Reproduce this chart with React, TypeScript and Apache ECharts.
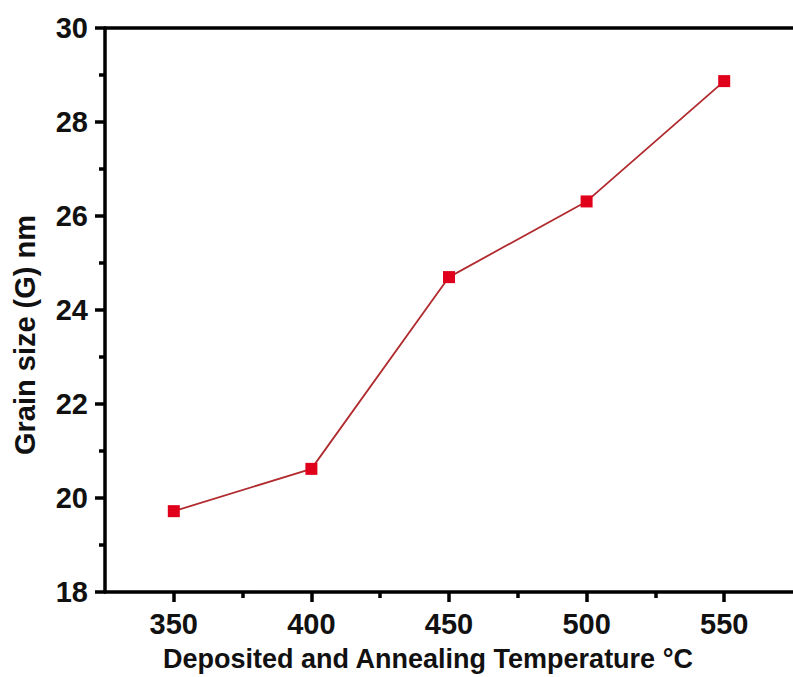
import React, { useEffect, useRef } from "react";
import * as echarts from "echarts";

const temperatures = [350, 400, 450, 500, 550];
const grainSize = [19.72, 20.62, 24.7, 26.31, 28.87];
const xMajorTicks = [350, 400, 450, 500, 550];
const xMinorTicks = [375, 425, 475, 525];
const xTitle = "Deposited and Annealing Temperature °C";
const yTitle = "Grain size (G) nm";

export default function App() {
  const ref = useRef<HTMLDivElement>(null);
  useEffect(() => {
    document.body.style.margin = "0";
    const chart = echarts.init(ref.current!, null, { renderer: "svg" });
    const font = "'Liberation Sans', Arial, sans-serif";
    const axisColor = "#000";
    const w = 3.5;
    chart.setOption({
      animation: false,
      backgroundColor: "#fff",
      grid: { left: 105, top: 28, width: 698.5, height: 566, containLabel: false },
      xAxis: [
        {
          type: "value",
          min: 325,
          max: 575,
          position: "bottom",
          axisLine: { show: true, onZero: false, lineStyle: { color: axisColor, width: w } },
          axisTick: { show: true, inside: false, length: 10, customValues: xMajorTicks, lineStyle: { color: axisColor, width: w } },
          axisLabel: { customValues: xMajorTicks, color: "#111", fontFamily: font, fontWeight: "bold", fontSize: 29, margin: 17 },
          splitLine: { show: false },
          name: xTitle,
          nameLocation: "middle",
          nameGap: 53,
          nameTextStyle: { color: "#111", fontFamily: font, fontWeight: "bold", fontSize: 27, padding: [0, 42, 0, 0] },
        },
        {
          type: "value",
          min: 325,
          max: 575,
          position: "bottom",
          axisLine: { show: false },
          axisTick: { show: true, inside: false, length: 6, customValues: xMinorTicks, lineStyle: { color: axisColor, width: w } },
          axisLabel: { show: false },
          splitLine: { show: false },
        },
        {
          type: "value",
          min: 325,
          max: 575,
          position: "top",
          axisLine: { show: true, onZero: false, lineStyle: { color: axisColor, width: w } },
          axisTick: { show: false },
          axisLabel: { show: false },
          splitLine: { show: false },
        },
      ],
      yAxis: {
        type: "value",
        min: 18,
        max: 30,
        interval: 2,
        axisLine: { show: true, onZero: false, lineStyle: { color: axisColor, width: w } },
        axisTick: { show: true, inside: false, length: 10, lineStyle: { color: axisColor, width: w } },
        minorTick: { show: true, splitNumber: 2, length: 6, lineStyle: { color: axisColor, width: w } },
        axisLabel: { color: "#111", fontFamily: font, fontWeight: "bold", fontSize: 29, margin: 17 },
        splitLine: { show: false },
        name: yTitle,
        nameLocation: "middle",
        nameRotate: 90,
        nameGap: 66,
        nameTextStyle: { color: "#111", fontFamily: font, fontWeight: "bold", fontSize: 29, padding: [0, 50, 0, 0] },
      },
      series: [
        {
          type: "line",
          xAxisIndex: 0,
          data: temperatures.map((t, i) => [t, grainSize[i]]),
          symbol: "rect",
          symbolSize: 12,
          itemStyle: { color: "#e0001b" },
          lineStyle: { color: "#b02a2e", width: 1.8 },
        },
      ],
    });
    return () => chart.dispose();
  }, []);
  return <div ref={ref} style={{ position: "absolute", left: 0, top: 0, width: 793, height: 677 }} />;
}
